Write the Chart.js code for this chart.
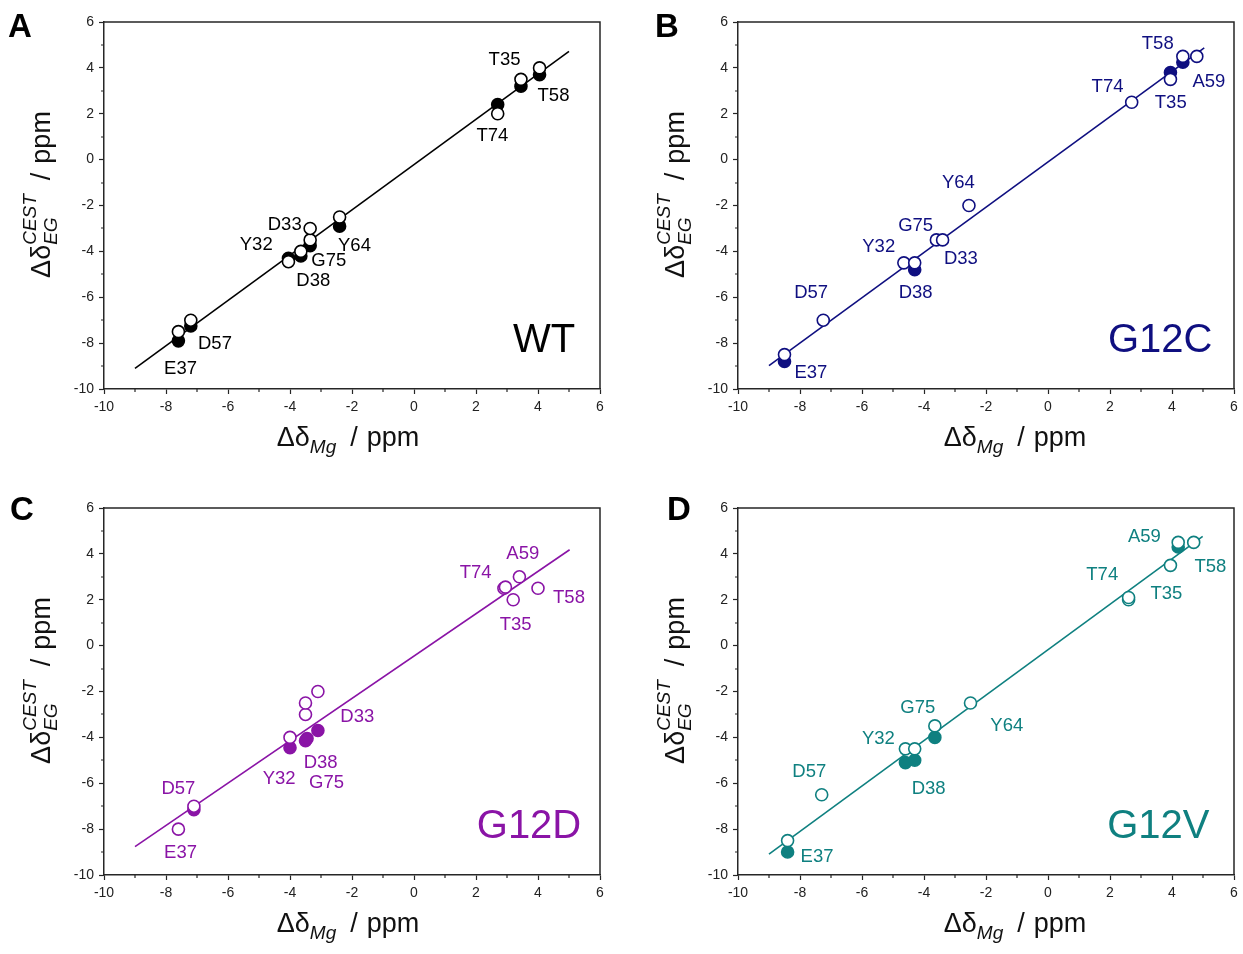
<!DOCTYPE html>
<html>
<head>
<meta charset="utf-8">
<script src="https://cdn.jsdelivr.net/npm/chart.js@4"></script>
<style>
  body { margin: 0; background: #fff; width: 1243px; height: 954px; overflow: hidden; position: relative; }
  .panel { position: absolute; }
  .tag { position: absolute; font: bold 33px/1 "Liberation Sans", Arial, sans-serif; color: #000; }
</style>
</head>
<body>
<div class="panel" style="left:0;top:0"><canvas id="chartA" width="610" height="468"></canvas></div>
<div class="panel" style="left:634px;top:0"><canvas id="chartB" width="609" height="468"></canvas></div>
<div class="panel" style="left:0;top:486px"><canvas id="chartC" width="610" height="468"></canvas></div>
<div class="panel" style="left:634px;top:486px"><canvas id="chartD" width="609" height="468"></canvas></div>
<div class="tag" style="left:8px;top:9px">A</div>
<div class="tag" style="left:655px;top:9px">B</div>
<div class="tag" style="left:10px;top:492px">C</div>
<div class="tag" style="left:667px;top:492px">D</div>

<script>
const FONT = '"Liberation Sans", Arial, sans-serif';

// WT
const wtOpenX   = [-7.6, -7.2, -4.05, -3.65, -3.35, -3.35, -2.4, 2.7, 3.45, 4.05];
const wtOpenY   = [-7.5, -7.0, -4.45, -4.0, -3.5, -3.0, -2.5, 2.0, 3.5, 4.0];
const wtFilledX = [-7.6, -7.2, -4.05, -3.65, -3.35, -2.4, 2.7, 3.45, 4.05];
const wtFilledY = [-7.9, -7.25, -4.3, -4.2, -3.75, -2.9, 2.4, 3.2, 3.7];
const wtFitX = [-9.0, 5.0];
const wtFitY = [-9.1, 4.72];
const wtNames  = ['T35', 'T58', 'T74', 'D33', 'Y32', 'Y64', 'G75', 'D38', 'D57', 'E37'];
const wtNameX  = [2.92, 4.5, 2.53, -4.17, -5.09, -1.92, -2.75, -3.25, -6.42, -7.53];
const wtNameY  = [4.33, 2.77, 1.05, -2.84, -3.72, -3.77, -4.43, -5.27, -8.04, -9.13];

// G12C
const g12cOpenX   = [-8.5, -7.25, -4.65, -4.3, -3.6, -3.4, -2.55, 2.7, 3.95, 4.35, 4.8];
const g12cOpenY   = [-8.5, -7.0, -4.5, -4.5, -3.5, -3.5, -2.0, 2.5, 3.5, 4.5, 4.5];
const g12cFilledX = [-8.5, -4.3, 3.95, 4.35];
const g12cFilledY = [-8.8, -4.8, 3.8, 4.25];
const g12cFitX = [-9.0, 5.04];
const g12cFitY = [-8.98, 4.87];
const g12cNames = ['T58', 'A59', 'T74', 'T35', 'Y64', 'G75', 'Y32', 'D33', 'D57', 'D38', 'E37'];
const g12cNameX = [3.54, 5.19, 1.92, 3.96, -2.89, -4.27, -5.46, -2.81, -7.64, -4.27, -7.65];
const g12cNameY = [5.03, 3.4, 3.16, 2.48, -1.01, -2.87, -3.8, -4.33, -5.81, -5.81, -9.3];

// G12D
const g12dOpenX   = [-7.6, -7.1, -4.0, -3.5, -3.5, -3.1, 2.9, 2.95, 3.4, 3.2, 4.0];
const g12dOpenY   = [-8.0, -7.0, -4.0, -3.0, -2.5, -2.0, 2.5, 2.55, 3.0, 2.0, 2.5];
const g12dFilledX = [-7.1, -4.0, -3.5, -3.45, -3.1];
const g12dFilledY = [-7.15, -4.45, -4.15, -4.05, -3.7];
const g12dFitX = [-9.0, 5.02];
const g12dFitY = [-8.76, 4.18];
const g12dNames = ['A59', 'T74', 'T58', 'T35', 'D33', 'D38', 'Y32', 'G75', 'D57', 'E37'];
const g12dNameX = [3.51, 1.99, 5.0, 3.28, -1.83, -3.01, -4.35, -2.82, -7.6, -7.53];
const g12dNameY = [3.99, 3.16, 2.1, 0.91, -3.09, -5.13, -5.83, -6.0, -6.26, -9.03];

// G12V
const g12vOpenX   = [-8.4, -7.3, -4.6, -4.3, -3.65, -2.5, 2.6, 2.6, 3.95, 4.2, 4.7];
const g12vOpenY   = [-8.5, -6.5, -4.5, -4.5, -3.5, -2.5, 2.0, 2.1, 3.5, 4.5, 4.5];
const g12vFilledX = [-8.4, -4.6, -4.3, -3.65, 4.2];
const g12vFilledY = [-9.0, -5.1, -5.0, -4.0, 4.3];
const g12vFitX = [-9.0, 4.99];
const g12vFitY = [-9.09, 4.76];
const g12vNames = ['A59', 'T58', 'T74', 'T35', 'G75', 'Y64', 'Y32', 'D57', 'D38', 'E37'];
const g12vNameX = [3.11, 5.24, 1.75, 3.82, -4.2, -1.33, -5.47, -7.7, -3.85, -7.45];
const g12vNameY = [4.75, 3.43, 3.08, 2.27, -2.72, -3.49, -4.07, -5.52, -6.26, -9.2];

function pts(xs, ys) {
  return xs.map((x, i) => ({ x: x, y: ys[i] }));
}

// writes "Δδ", a sub/superscript block, then "/ ppm" along the current baseline
function richTitle(ctx, cx, sub, sup) {
  const big = '27px ' + FONT, small = 'italic 19px ' + FONT;
  ctx.font = big;
  const w1 = ctx.measureText('\u0394\u03b4').width;
  const wSlash = ctx.measureText('/').width;
  const wPpm = ctx.measureText('ppm').width;
  ctx.font = small;
  const w2 = Math.max(ctx.measureText(sub).width, sup ? ctx.measureText(sup).width : 0);
  const total = w1 + w2 + 14 + wSlash + 9 + wPpm;
  let sx = cx - total / 2;
  ctx.font = big; ctx.fillText('\u0394\u03b4', sx, 0); sx += w1;
  ctx.font = small;
  ctx.fillText(sub, sx, 7);
  if (sup) ctx.fillText(sup, sx, -14);
  sx += w2 + 14;
  ctx.font = big; ctx.fillText('/', sx, 0); sx += wSlash + 9;
  ctx.fillText('ppm', sx, 0);
}

// draws the top/right frame, minor ticks, residue labels, variant name and axis titles
function decor(p) {
  return {
    id: 'decor',
    afterDraw(chart) {
      const ctx = chart.ctx;
      const a = chart.chartArea;
      const x = chart.scales.x, y = chart.scales.y;
      ctx.save();
      ctx.strokeStyle = '#262626';
      ctx.lineWidth = 1.5;
      ctx.beginPath();
      ctx.moveTo(a.left, a.top);
      ctx.lineTo(a.right, a.top);
      ctx.lineTo(a.right, a.bottom);
      ctx.stroke();

      ctx.lineWidth = 1.2;
      ctx.beginPath();
      for (let v = x.min + 1; v < x.max; v += 2) {
        const px = Math.round(x.getPixelForValue(v));
        ctx.moveTo(px, a.bottom);
        ctx.lineTo(px, a.bottom + 3);
      }
      for (let v = y.min + 1; v < y.max; v += 2) {
        const py = Math.round(y.getPixelForValue(v));
        ctx.moveTo(a.left, py);
        ctx.lineTo(a.left - 3, py);
      }
      ctx.stroke();

      ctx.fillStyle = p.color;
      ctx.textAlign = 'center';
      ctx.textBaseline = 'middle';
      ctx.font = '18.5px ' + FONT;
      p.names.forEach((n, i) => {
        ctx.fillText(n, x.getPixelForValue(p.nameX[i]), y.getPixelForValue(p.nameY[i]));
      });
      ctx.font = '40px ' + FONT;
      ctx.fillText(p.title, x.getPixelForValue(p.titleX), y.getPixelForValue(-7.9));

      ctx.fillStyle = '#111';
      ctx.textBaseline = 'alphabetic';
      ctx.textAlign = 'left';

      // x axis title
      ctx.save();
      ctx.translate(0, a.bottom + 57);
      richTitle(ctx, p.xTitleX, 'Mg', null);
      ctx.restore();

      // y axis title
      ctx.translate(50, (a.top + a.bottom) / 2 - 11);
      ctx.rotate(-Math.PI / 2);
      richTitle(ctx, 0, 'EG', 'CEST');
      ctx.restore();
    }
  };
}

function axis(extra) {
  return Object.assign({
    type: 'linear',
    min: -10,
    max: 6,
    grid: { drawOnChartArea: false, tickLength: 5, tickColor: '#262626', tickWidth: 1.2 },
    border: { display: true, color: '#262626', width: 1.5 },
    ticks: { stepSize: 2, padding: 5, color: '#222', font: { size: 14, family: FONT }, autoSkip: false, maxRotation: 0 }
  }, extra);
}

function makePanel(id, p) {
  new Chart(document.getElementById(id), {
    type: 'scatter',
    data: {
      datasets: [
        { data: pts(p.openX, p.openY), pointRadius: 6, pointBorderWidth: 1.6,
          pointBorderColor: p.color, pointBackgroundColor: '#fff' },
        { data: pts(p.filledX, p.filledY), pointRadius: 6, pointBorderWidth: 1.6,
          pointBorderColor: p.color, pointBackgroundColor: p.color },
        { data: pts(p.fitX, p.fitY), showLine: true, pointRadius: 0,
          borderColor: p.color, borderWidth: 1.6 }
      ]
    },
    options: {
      responsive: false,
      animation: false,
      events: [],
      layout: { padding: { top: 22, right: p.padRight, left: 0, bottom: 0 } },
      plugins: { legend: { display: false }, tooltip: { enabled: false } },
      scales: {
        x: axis({ afterFit: s => { s.height = 79; } }),
        y: axis({ afterFit: s => { s.width = 104; } })
      }
    },
    plugins: [decor(p)]
  });
}

makePanel('chartA', {
  color: '#000', title: 'WT', titleX: 4.2, xTitleX: 348, padRight: 10,
  openX: wtOpenX, openY: wtOpenY, filledX: wtFilledX, filledY: wtFilledY,
  fitX: wtFitX, fitY: wtFitY, names: wtNames, nameX: wtNameX, nameY: wtNameY
});
makePanel('chartB', {
  color: '#0f0f80', title: 'G12C', titleX: 3.62, xTitleX: 381, padRight: 9,
  openX: g12cOpenX, openY: g12cOpenY, filledX: g12cFilledX, filledY: g12cFilledY,
  fitX: g12cFitX, fitY: g12cFitY, names: g12cNames, nameX: g12cNameX, nameY: g12cNameY
});
makePanel('chartC', {
  color: '#8a14a6', title: 'G12D', titleX: 3.71, xTitleX: 348, padRight: 10,
  openX: g12dOpenX, openY: g12dOpenY, filledX: g12dFilledX, filledY: g12dFilledY,
  fitX: g12dFitX, fitY: g12dFitY, names: g12dNames, nameX: g12dNameX, nameY: g12dNameY
});
makePanel('chartD', {
  color: '#0f8080', title: 'G12V', titleX: 3.56, xTitleX: 381, padRight: 9,
  openX: g12vOpenX, openY: g12vOpenY, filledX: g12vFilledX, filledY: g12vFilledY,
  fitX: g12vFitX, fitY: g12vFitY, names: g12vNames, nameX: g12vNameX, nameY: g12vNameY
});
</script>
</body>
</html>
